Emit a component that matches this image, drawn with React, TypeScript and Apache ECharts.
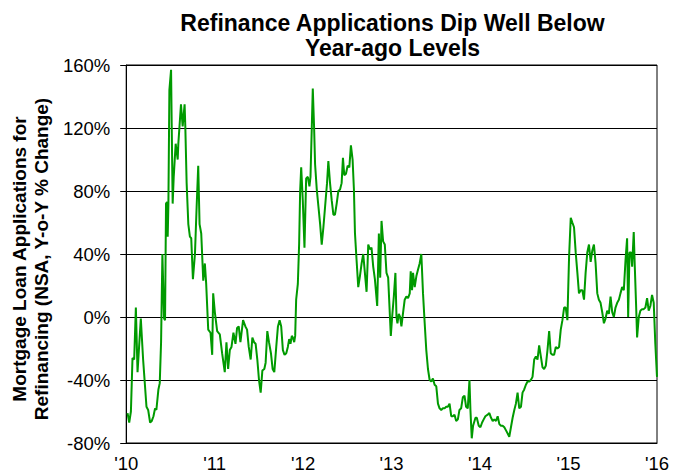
import React, { useEffect, useRef } from "react";
import * as echarts from "echarts";

const titleLines = ["Refinance Applications Dip Well Below", "Year-ago Levels"];
const yAxisTitle = ["Mortgage Loan Applications for", "Refinancing (NSA, Y-o-Y % Change)"];
const yearLabels = ["'10", "'11", "'12", "'13", "'14", "'15", "'16"];

// years since Jan 2010
const yearOffset = [
  0.015, 0.034, 0.053, 0.071, 0.09, 0.109, 0.128, 0.165, 0.191, 0.229, 0.248, 0.27, 0.289, 0.308, 0.326, 0.341, 0.364, 0.379, 0.394, 0.409,
  0.428, 0.439, 0.45, 0.462, 0.469, 0.477, 0.488, 0.507, 0.514, 0.525, 0.537, 0.559, 0.582, 0.589, 0.619, 0.638, 0.66, 0.668, 0.683, 0.702,
  0.72, 0.735, 0.754, 0.777, 0.796, 0.814, 0.829, 0.848, 0.871, 0.889, 0.904, 0.927, 0.953, 0.972, 0.983, 1.002, 1.028, 1.058, 1.084, 1.114,
  1.133, 1.152, 1.171, 1.19, 1.212, 1.235, 1.253, 1.272, 1.291, 1.321, 1.347, 1.366, 1.385, 1.407, 1.426, 1.445, 1.463, 1.482, 1.501, 1.52,
  1.539, 1.561, 1.576, 1.595, 1.614, 1.636, 1.655, 1.674, 1.696, 1.715, 1.734, 1.752, 1.771, 1.79, 1.809, 1.827, 1.842, 1.857, 1.872, 1.884,
  1.899, 1.91, 1.921, 1.94, 1.955, 1.966, 1.978, 1.996, 2.015, 2.034, 2.053, 2.071, 2.083, 2.098, 2.109, 2.124, 2.135, 2.154, 2.173, 2.192,
  2.21, 2.229, 2.248, 2.27, 2.285, 2.304, 2.323, 2.342, 2.36, 2.379, 2.398, 2.417, 2.435, 2.45, 2.465, 2.484, 2.503, 2.522, 2.54, 2.559,
  2.574, 2.586, 2.604, 2.623, 2.642, 2.661, 2.679, 2.698, 2.717, 2.736, 2.754, 2.773, 2.792, 2.811, 2.837, 2.856, 2.871, 2.886, 2.904, 2.923,
  2.942, 2.961, 2.991, 3.006, 3.025, 3.043, 3.055, 3.066, 3.081, 3.096, 3.111, 3.13, 3.148, 3.167, 3.186, 3.205, 3.216, 3.231, 3.242, 3.261,
  3.28, 3.298, 3.317, 3.336, 3.355, 3.374, 3.392, 3.411, 3.43, 3.449, 3.467, 3.486, 3.505, 3.524, 3.542, 3.561, 3.58, 3.599, 3.617, 3.636,
  3.655, 3.674, 3.692, 3.711, 3.73, 3.749, 3.767, 3.786, 3.805, 3.824, 3.842, 3.861, 3.88, 3.891, 3.906, 3.921, 3.948, 3.963, 3.985, 4.004,
  4.023, 4.041, 4.06, 4.086, 4.105, 4.124, 4.143, 4.161, 4.18, 4.199, 4.218, 4.236, 4.255, 4.274, 4.293, 4.312, 4.33, 4.349, 4.368, 4.387,
  4.405, 4.424, 4.443, 4.462, 4.48, 4.499, 4.518, 4.537, 4.556, 4.574, 4.593, 4.612, 4.631, 4.649, 4.668, 4.687, 4.706, 4.724, 4.743, 4.762,
  4.781, 4.799, 4.818, 4.837, 4.856, 4.874, 4.893, 4.912, 4.931, 4.95, 4.968, 4.987, 5.006, 5.025, 5.043, 5.062, 5.081, 5.1, 5.118, 5.137,
  5.156, 5.175, 5.193, 5.212, 5.231, 5.25, 5.268, 5.287, 5.306, 5.325, 5.343, 5.362, 5.381, 5.4, 5.418, 5.437, 5.456, 5.475, 5.494, 5.512,
  5.531, 5.55, 5.569, 5.587, 5.606, 5.625, 5.644, 5.662, 5.674, 5.689, 5.707, 5.719, 5.737, 5.749, 5.764, 5.775, 5.794, 5.812, 5.831, 5.85,
  5.869, 5.888, 5.906, 5.925, 5.944, 5.963, 5.981, 6.0,
];

// refinance applications, NSA, year-over-year % change
const refiChange = [
  -61, -67, -60, -26, -27, 6, -35, -1, -27, -57, -59, -67, -66, -63, -58, -59, -46, -42, -16, 40,
  -1, -2, 72, 73, 51, 72, 144, 157, 123, 72, 89, 110, 100, 110, 135, 121, 135, 121, 85, 59,
  51, 50, 24, 40, 70, 96, 59, 53, 23, 34, 21, -8, -10, -24, 15, 3, -9, -11, -23, -35,
  -16, -33, -21, -19, -10, -17, -7, -6, -16, -2, -6, -8, -19, -27, -13, -16, -17, -27, -40, -48,
  -34, -33, -29, -9, -16, -23, -33, -35, -19, -6, -2, -6, -21, -24, -23, -19, -14, -17, -12, -13,
  -16, -12, 11, 21, 47, 80, 95, 74, 44, 88, 89, 83, 89, 121, 145, 120, 97, 81, 70, 59,
  46, 57, 70, 85, 99, 85, 74, 65, 65, 72, 80, 81, 85, 101, 90, 91, 96, 95, 109, 100,
  81, 53, 36, 19, 26, 34, 40, 28, 16, 46, 43, 44, 32, 24, 7, 53, 25, 61, 48, 46,
  28, 25, -12, 0, 13, 28, 0, -4, 2, 0, -6, 3, 11, 13, 12, 15, 29, 17, 28, 19,
  26, 30, 34, 40, 15, -4, -21, -33, -40, -41, -39, -43, -44, -55, -58, -59, -58, -58, -57, -57,
  -55, -63, -63, -62, -66, -65, -59, -58, -51, -50, -57, -58, -40, -59, -77, -69, -64, -64, -69, -70,
  -67, -65, -63, -62, -61, -64, -66, -65, -66, -63, -68, -69, -69, -70, -72, -74, -76, -70, -64, -59,
  -55, -48, -58, -57, -48, -46, -43, -41, -41, -40, -38, -27, -25, -27, -18, -25, -32, -33, -31, -21,
  -9, -23, -24, -24, -19, -20, -19, -8, -2, 6, 6, -2, 38, 63, 60, 57, 41, 28, 15, 17,
  17, 11, 28, 41, 46, 35, 42, 46, 34, 15, 11, 9, 3, -4, -1, 4, 2, 13, 3, 0,
  6, 9, 11, 15, 19, 17, 36, 50, 0, 41, 41, 32, 54, 32, 7, -13, 0, 4, 5, 5,
  6, 12, 4, 7, 14, 9, -17, -38,
];

const FONT = "Liberation Sans, Arial, sans-serif";

export default function App() {
  const ref = useRef<HTMLDivElement>(null);

  useEffect(() => {
    if (!ref.current) return;
    const chart = echarts.init(ref.current, null, { renderer: "svg" });
    const data = yearOffset.map((t, i) => [t, refiChange[i]]);
    chart.setOption({
      animation: false,
      backgroundColor: "#ffffff",
      title: {
        text: titleLines.join("\n"),
        left: 387.5,
        top: 6,
        textAlign: "center",
        textStyle: {
          fontFamily: FONT,
          fontSize: 23,
          fontWeight: "bold",
          color: "#000",
          lineHeight: 24.4,
        },
      },
      grid: {
        left: 122,
        right: 22,
        top: 65,
        bottom: 32,
        show: true,
        borderColor: "#000",
        borderWidth: 1,
        containLabel: false,
      },
      xAxis: {
        type: "value",
        min: 0,
        max: 6,
        interval: 1,
        axisLine: { show: true, onZero: false, lineStyle: { color: "#000", width: 1 } },
        axisTick: { show: false },
        splitLine: { show: false },
        axisLabel: {
          margin: 11,
          fontFamily: FONT,
          fontSize: 18.5,
          color: "#000",
          formatter: (v: number) => yearLabels[Math.round(v)] ?? "",
        },
      },
      yAxis: {
        type: "value",
        min: -80,
        max: 160,
        interval: 40,
        name: yAxisTitle.join("\n"),
        nameLocation: "middle",
        nameRotate: 90,
        nameGap: 69,
        nameTextStyle: {
          fontFamily: FONT,
          fontSize: 19,
          fontWeight: "bold",
          color: "#000",
          lineHeight: 22,
          padding: [0, 10, 0, 0],
        },
        axisLine: { show: true, lineStyle: { color: "#000", width: 1 } },
        axisTick: { show: true, inside: false, length: 6, lineStyle: { color: "#000" } },
        splitLine: { show: true, lineStyle: { color: "#000", width: 1 } },
        axisLabel: {
          margin: 16,
          fontFamily: FONT,
          fontSize: 18.5,
          color: "#000",
          formatter: (v: number) => `${v}%`,
        },
      },
      series: [
        {
          type: "line",
          data,
          showSymbol: false,
          symbol: "none",
          lineStyle: { color: "#009a00", width: 2 },
          itemStyle: { color: "#009a00" },
          clip: true,
        },
      ],
    });
    return () => chart.dispose();
  }, []);

  return (
    <div
      ref={ref}
      style={{ position: "absolute", left: 0, top: 0, width: 679, height: 475 }}
    />
  );
}
